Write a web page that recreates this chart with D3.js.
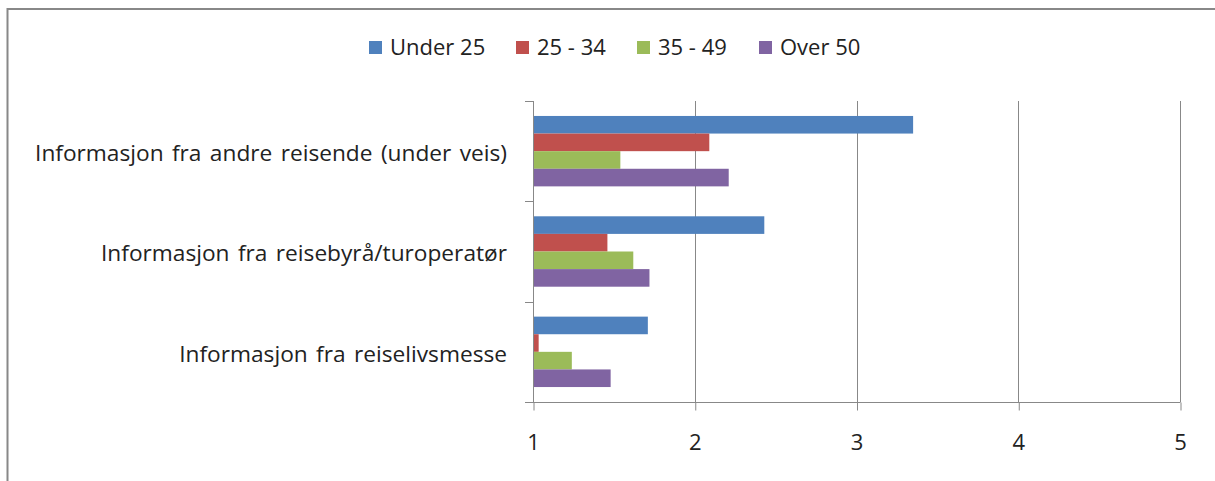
<!DOCTYPE html>
<html>
<head>
<meta charset="utf-8">
<script src="https://cdn.jsdelivr.net/npm/d3@7"></script>
<style>
  body { margin: 0; background: #fff; }
  text { font-family: "Open Sans", sans-serif; fill: #222; }
</style>
</head>
<body>
<script>
var width = 1215;
var height = 481;

// data
var categories = [
  "Informasjon fra andre reisende (under veis)",
  "Informasjon fra reisebyrå/turoperatør",
  "Informasjon fra reiselivsmesse"
];
var seriesNames = ["Under 25", "25 - 34", "35 - 49", "Over 50"];
var under25 = [3.35, 2.43, 1.71];
var age25to34 = [2.09, 1.46, 1.035];
var age35to49 = [1.54, 1.62, 1.24];
var over50 = [2.21, 1.72, 1.48];
var xTicks = [1, 2, 3, 4, 5];
var colors = ["#4F81BD", "#C0504D", "#9BBB59", "#8064A2"];

var seriesValues = [under25, age25to34, age35to49, over50];

var svg = d3.select("body").append("svg")
  .attr("width", width).attr("height", height);

// outer frame (top + left only visible)
svg.append("line").attr("x1", 7).attr("x2", width).attr("y1", 9).attr("y2", 9)
  .style("stroke", "#888").style("stroke-width", 2);
svg.append("line").attr("x1", 7.5).attr("x2", 7.5).attr("y1", 8).attr("y2", height)
  .style("stroke", "#888").style("stroke-width", 2);

var x = d3.scaleLinear().domain([1, 5]).range([533, 1180]);
var y = d3.scaleBand().domain(categories).range([101, 402]);
var inner = d3.scaleBand().domain(d3.range(4)).range([0, y.bandwidth()]).paddingOuter(0.85);

// vertical gridlines
svg.selectAll("line.grid").data(xTicks.slice(1)).enter().append("line")
  .attr("class", "grid")
  .attr("x1", function (d) { return Math.round(x(d)) + 0.5; })
  .attr("x2", function (d) { return Math.round(x(d)) + 0.5; })
  .attr("y1", 101).attr("y2", 402)
  .style("stroke", "#888").style("stroke-width", 1);

// bars
seriesValues.forEach(function (vals, s) {
  svg.selectAll("rect.s" + s).data(vals).enter().append("rect")
    .attr("class", "s" + s)
    .attr("x", x(1))
    .attr("y", function (d, i) { return y(categories[i]) + inner(s); })
    .attr("width", function (d) { return x(d) - x(1); })
    .attr("height", inner.bandwidth())
    .style("fill", colors[s]);
});

// x axis
var xAxis = svg.append("g").attr("transform", "translate(0,402.5)")
  .call(d3.axisBottom(x).tickValues(xTicks).tickSize(8).tickPadding(24).tickFormat(d3.format("d")));
xAxis.select(".domain").attr("d", "M" + (x(1) - 8) + ",0H" + (x(5) + 0.5));
xAxis.selectAll("line").attr("transform", function () { return "translate(0.5,0)"; });

// y axis
var yTickPos = [101, 201, 302, 402];
svg.append("line").attr("x1", 533.5).attr("x2", 533.5).attr("y1", 101).attr("y2", 402)
  .style("stroke", "#888");
svg.selectAll("line.ytick").data(yTickPos).enter().append("line")
  .attr("class", "ytick")
  .attr("x1", 525).attr("x2", 533)
  .attr("y1", function (d) { return d + 0.5; }).attr("y2", function (d) { return d + 0.5; })
  .style("stroke", "#888");

xAxis.selectAll("path, line").style("stroke", "#888");
xAxis.selectAll("text").style("font-size", "22px").style("font-family", "'Open Sans', sans-serif").style("fill", "#222");

svg.selectAll("text.cat").data(categories).enter().append("text")
  .attr("class", "cat")
  .attr("x", 507)
  .attr("y", function (d) { return y(d) + y.bandwidth() / 2 + 2; })
  .attr("dy", "0.35em")
  .attr("text-anchor", "end")
  .style("font-size", "22.7px")
  .style("word-spacing", "2.5px")
  .text(function (d) { return d; });

// legend
var legendX = [369, 516, 637, 759];
var legend = svg.selectAll("g.leg").data(seriesNames).enter().append("g")
  .attr("class", "leg")
  .attr("transform", function (d, i) { return "translate(" + legendX[i] + ",47)"; });
legend.append("rect").attr("x", 0).attr("y", -6).attr("width", 13).attr("height", 13)
  .style("fill", function (d, i) { return colors[i]; });
legend.append("text").attr("x", 21).attr("dy", "0.35em")
  .style("font-size", "22px")
  .text(function (d) { return d; });
</script>
</body>
</html>
